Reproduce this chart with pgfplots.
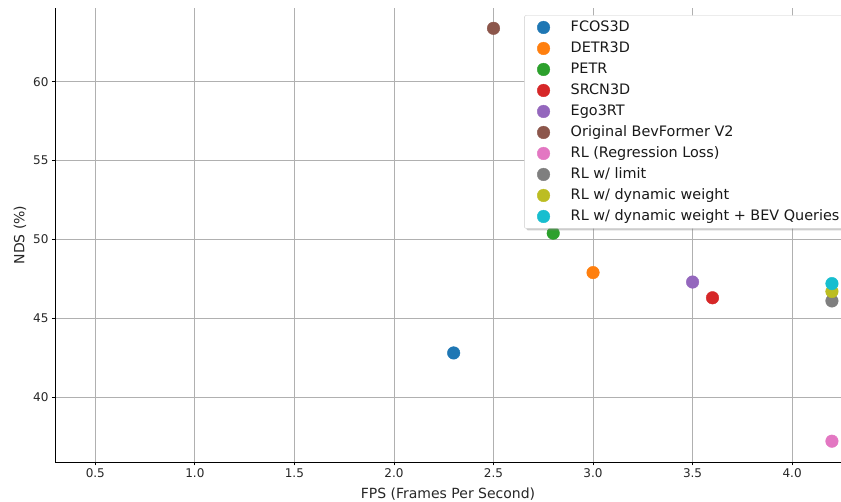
\documentclass[border=0pt]{standalone}
\usepackage{fontspec}
\setmainfont{DejaVu Sans}
\usepackage{pgfplots}
\pgfplotsset{compat=1.18}
\usetikzlibrary{shadows}
\definecolor{c0}{HTML}{1F77B4}
\definecolor{c1}{HTML}{FF7F0E}
\definecolor{c2}{HTML}{2CA02C}
\definecolor{c3}{HTML}{D62728}
\definecolor{c4}{HTML}{9467BD}
\definecolor{c5}{HTML}{8C564B}
\definecolor{c6}{HTML}{E377C2}
\definecolor{c7}{HTML}{7F7F7F}
\definecolor{c8}{HTML}{BCBD22}
\definecolor{c9}{HTML}{17BECF}
\makeatletter
\tikzset{no preactions/.code={\let\tikz@preactions\pgfutil@empty}}
\makeatother
\pgfplotsset{pt/.style={only marks, mark=*, mark size=6.3pt, color=#1, mark options={fill=#1, draw=#1}}}
\begin{document}
\begin{tikzpicture}
\begin{axis}[
  name=ax,
  scale only axis,
  width=785pt, height=454pt,
  xmin=0.3, xmax=4.243,
  ymin=35.88, ymax=64.69,
  axis x line=bottom, axis y line=left,
  axis line style={-, line width=0.8pt, black},
  xtick={0.5,1.0,1.5,2.0,2.5,3.0,3.5,4.0},
  ytick={40,45,50,55,60},
  xticklabel style={/pgf/number format/fixed, /pgf/number format/fixed zerofill, /pgf/number format/precision=1},
  /pgf/number format/assume math mode=true,
  tick align=outside,
  major tick length=3.5pt,
  tick style={line width=0.8pt, black},
  ticklabel style={font=\fontsize{12}{14}\selectfont, text=black!85},
  grid=major,
  major grid style={line width=0.8pt, color=black!31},
  xlabel={FPS (Frames Per Second)},
  ylabel={NDS (\%)},
  label style={font=\fontsize{14}{16}\selectfont, text=black!85},
  xlabel style={yshift=-3pt},
  ylabel style={yshift=0pt},
  legend cell align=left,
  legend style={
    at={(rel axis cs:0.597,0.984)}, anchor=north west,
    font=\fontsize{14.4}{16}\selectfont,
    draw=black!20, fill=white,
    rounded corners=2pt,
    drop shadow={shadow xshift=2pt, shadow yshift=-2pt, opacity=0.4},
    inner xsep=12.7pt, inner ysep=5pt,
    row sep=7pt,
    column sep=20.7pt,
    nodes={inner sep=0pt, text height=11pt, text depth=3pt, text=black!90},
  },
  legend image code/.code={\fill[no preactions, #1] (0pt,0pt) circle (6.3pt);},
]
\addplot[pt=c0] coordinates {(2.3,42.8)};
\addlegendentry{FCOS3D}
\addplot[pt=c1] coordinates {(3.0,47.9)};
\addlegendentry{DETR3D}
\addplot[pt=c2] coordinates {(2.8,50.4)};
\addlegendentry{PETR}
\addplot[pt=c3] coordinates {(3.6,46.3)};
\addlegendentry{SRCN3D}
\addplot[pt=c4] coordinates {(3.5,47.3)};
\addlegendentry{Ego3RT}
\addplot[pt=c5] coordinates {(2.5,63.4)};
\addlegendentry{Original BevFormer V2}
\addplot[pt=c6] coordinates {(4.2,37.2)};
\addlegendentry{RL (Regression Loss)}
\addplot[pt=c7] coordinates {(4.2,46.1)};
\addlegendentry{RL w/ limit}
\addplot[pt=c8] coordinates {(4.2,46.7)};
\addlegendentry{RL w/ dynamic weight}
\addplot[pt=c9] coordinates {(4.2,47.2)};
\addlegendentry{RL w/ dynamic weight + BEV Queries}
\end{axis}
\pgfresetboundingbox
\path ([shift={(-55.5pt,-40pt)}]ax.south west) rectangle ([shift={(0.5pt,8pt)}]ax.north east);
\end{tikzpicture}
\end{document}
